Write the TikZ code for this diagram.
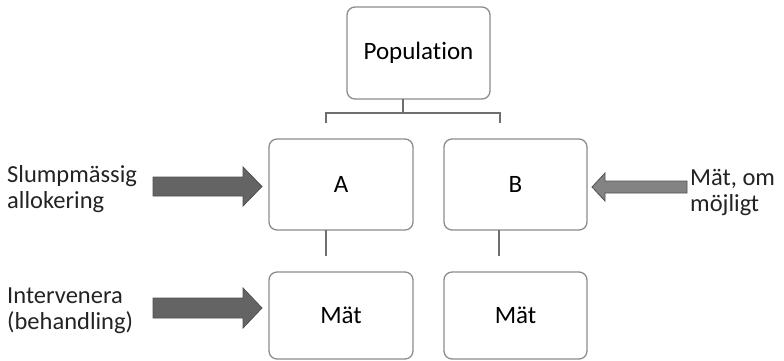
\documentclass[tikz,border=0pt]{standalone}
\usepackage{fontspec}
\setmainfont[RawFeature=-liga]{Carlito}
\begin{document}
\begin{tikzpicture}[x=1pt,y=-1pt,
  box/.style={draw=boxgray,line width=1.3pt,rounded corners=8pt,fill=white,inner sep=0pt,text=black,font=\fontsize{25}{28}\selectfont},
  lbl/.style={align=left,inner sep=0pt,text=labelgray,font=\fontsize{24.5}{26}\selectfont,anchor=west},
  conn/.style={draw=linegray,line width=1.4pt},
  barrow/.style={fill=arrowgray,draw=arrowedge,line width=0.8pt}]
\definecolor{boxgray}{RGB}{140,140,140}
\definecolor{linegray}{RGB}{110,110,110}
\definecolor{arrowgray}{RGB}{100,100,100}
\definecolor{arrowedge}{RGB}{80,80,80}
\definecolor{labelgray}{RGB}{35,35,35}
\useasboundingbox (0,0) rectangle (784,360);
\node[box,minimum width=143pt,minimum height=92pt] (pop) at (418.5,53) {Population};
\node[box,minimum width=144pt,minimum height=91pt] (A) at (341,184.5) {A};
\node[box,minimum width=143pt,minimum height=91pt] (B) at (515.5,184.5) {B};
\node[box,minimum width=144pt,minimum height=87pt] (MA) at (341,315.5) {Mät};
\node[box,minimum width=143pt,minimum height=87pt] (MB) at (515.5,315.5) {Mät};
% bracket
\coordinate (d0) at (403,99);
\coordinate (d1) at (403,113);
\coordinate (bl) at (326,113);
\coordinate (br) at (500,113);
\coordinate (bl2) at (326,123);
\coordinate (br2) at (500,123);
\draw[conn] (d0) -- (d1);
\draw[conn] (bl2) -- (bl) -- (br) -- (br2);
\coordinate (a1) at (326,230);
\coordinate (a2) at (326,256);
\coordinate (b1) at (499,230);
\coordinate (b2) at (499,256);
\draw[conn] (a1) -- (a2);
\draw[conn] (b1) -- (b2);
% labels
\node[lbl] (l1) at (7,189) {Slumpmässig\\allokering};
\node[lbl] (l2) at (7,311) {Intervenera\\(behandling)};
\node[lbl] (l3) at (690,192) {Mät, om\\möjligt};
% block arrows
\draw[barrow] (153,177) -- (243,177) -- (243,167) -- (262,186.5) -- (243,206) -- (243,196) -- (153,196) -- cycle;
\draw[barrow] (153,298) -- (243,298) -- (243,288) -- (262,308) -- (243,328) -- (243,318) -- (153,318) -- cycle;
\draw[barrow,fill=arrowgray!80!white] (687,181) -- (605,181) -- (605,173) -- (592,187) -- (605,201) -- (605,193) -- (687,193) -- cycle;
\end{tikzpicture}
\end{document}
